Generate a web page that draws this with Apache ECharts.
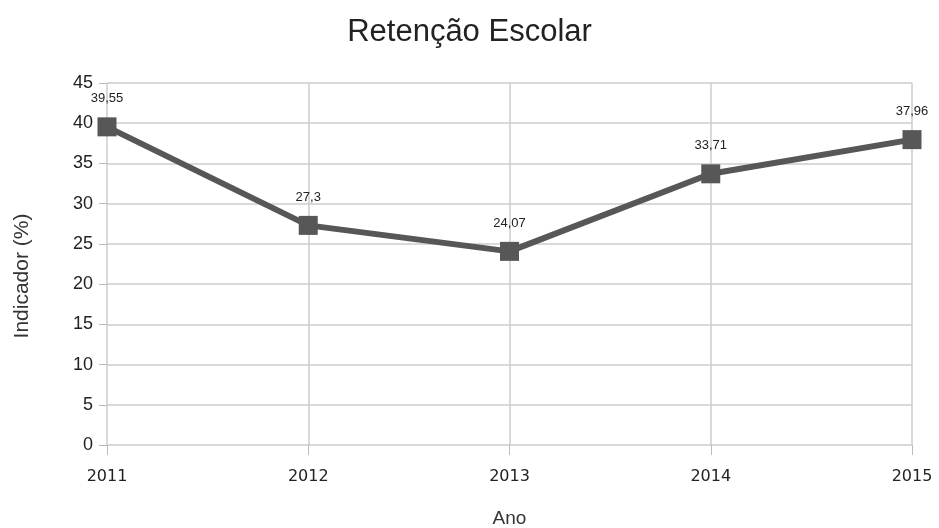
<!DOCTYPE html>
<html><head><meta charset="utf-8">
<script src="https://cdn.jsdelivr.net/npm/echarts@6/dist/echarts.min.js"></script>
<style>html,body{margin:0;padding:0;background:#fff}#c{width:939px;height:528px}</style>
</head><body><div id="c"></div>
<script>
const categories = ['2011','2012','2013','2014','2015'];
const values = [39.55, 27.3, 24.07, 33.71, 37.96];
const labels = ['39,55','27,3','24,07','33,71','37,96'];
const chart = echarts.init(document.getElementById('c'));
const font = 'Liberation Sans, Arial, sans-serif';
chart.setOption({
  animation:false,
  title:{text:'Retenção Escolar',left:'center',top:12,textStyle:{fontFamily:font,fontSize:31,fontWeight:'normal',color:'#222'}},
  grid:{left:107,right:27,top:83,bottom:83,containLabel:false,outerBoundsMode:'none'},
  xAxis:{type:'category',data:categories,boundaryGap:false,name:'Ano',nameLocation:'middle',nameGap:64,
    nameTextStyle:{fontFamily:font,fontSize:19,color:'#333'},
    axisLine:{show:false},
    axisTick:{show:true,alignWithLabel:true,length:10,lineStyle:{color:'#bbb'}},
    axisLabel:{fontFamily:'DejaVu Sans, sans-serif',fontSize:16,color:'#222',margin:24},
    splitLine:{show:true,lineStyle:{color:'#ccc',width:1.5}}},
  yAxis:{type:'value',min:0,max:45,interval:5,name:'Indicador (%)',nameLocation:'middle',nameGap:74,
    nameTextStyle:{fontFamily:font,fontSize:21,color:'#333',padding:[0,0,0,-24]},
    axisLine:{show:false},
    axisTick:{show:true,length:8,lineStyle:{color:'#bbb'}},
    axisLabel:{fontFamily:font,fontSize:18,color:'#222',margin:14},
    splitLine:{show:true,lineStyle:{color:'#ccc',width:1.5}}},
  series:[{type:'line',data:values,symbol:'rect',symbolSize:19,
    lineStyle:{color:'#575757',width:6},itemStyle:{color:'#575757'},
    label:{show:true,position:'top',distance:12,fontFamily:font,fontSize:13,color:'#222',
      formatter:p=>labels[p.dataIndex]}}]
});
</script></body></html>
